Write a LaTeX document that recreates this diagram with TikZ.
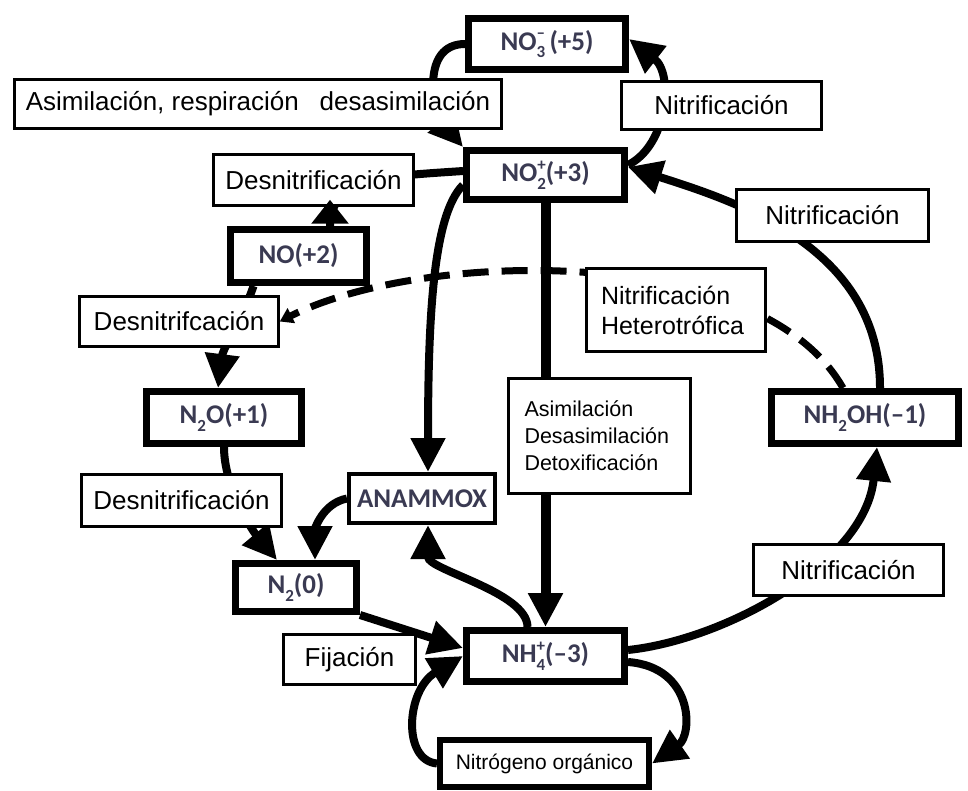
\documentclass[tikz,border=0pt]{standalone}
\usepackage{fontspec}
\setmainfont{Liberation Sans}
\newfontfamily\chemfont{Carlito}
\usetikzlibrary{arrows.meta}
\pgfdeclarelayer{bg}
\pgfsetlayers{bg,main}
\definecolor{chemtext}{HTML}{3A3A52}
\newcommand{\ionsub}[2]{\rlap{\raisebox{-0.28em}{\fontsize{17}{17}\selectfont #1}}\raisebox{0.42em}{\fontsize{17}{17}\selectfont #2}}
\newcommand{\lowsub}[1]{\raisebox{-0.28em}{\fontsize{17}{17}\selectfont #1}}

\begin{document}
\begin{tikzpicture}[x=1pt,y=-1pt,
  chem/.style={draw, line width=7pt, fill=white, inner sep=0pt, text=chemtext,
    font={\chemfont\bfseries\fontsize{27}{30}\selectfont}},
  lbl/.style={draw, line width=2.5pt, fill=white, inner sep=0pt,
    font={\fontsize{26}{30}\selectfont}},
  flow/.style={line width=8pt, -{Triangle[length=34pt,width=33pt]}}]
\useasboundingbox (0,0) rectangle (968,791);
% species
\node[chem, minimum width=157pt, minimum height=51pt] (no3) at (547,44) {NO\ionsub{3}{–}\,(+5)};
\node[chem, minimum width=158pt, minimum height=49pt] (no2) at (545.5,175) {NO\ionsub{2}{+}(+3)};
\node[chem, minimum width=136pt, minimum height=53pt] (no) at (298.5,256) {NO(+2)};
\node[chem, minimum width=155pt, minimum height=52pt] (ntwoo) at (224,417.5) {N\lowsub{2}O(+1)};
\node[chem, minimum width=121pt, minimum height=48pt] (ntwo) at (296,587.5) {N\lowsub{2}(0)};
\node[chem, minimum width=158pt, minimum height=51pt] (nh4) at (545.5,656) {NH\ionsub{4}{+}(–3)};
\node[chem, minimum width=187pt, minimum height=52pt] (nhtwooh) at (865,417.5) {NH\lowsub{2}OH(–1)};
\node[chem, line width=4pt, minimum width=146pt, minimum height=49pt] (anammox) at (422,498.5) {ANAMMOX};
\node[chem, line width=6pt, minimum width=209pt, minimum height=47pt, text=black,
  font={\fontsize{21}{25}\selectfont}] (norg) at (544.5,763.5) {Nitrógeno orgánico};
% labels
\node[lbl, minimum width=487pt, minimum height=49pt] (asim) at (258,104) {Asimilación, respiración\hspace{0.8em}desasimilación};
\node[lbl, minimum width=200pt, minimum height=48pt] (nitA) at (721.5,105.5) {Nitrificación};
\node[lbl, minimum width=200pt, minimum height=51pt] (dnA) at (313.5,180) {Desnitrificación};
\node[lbl, minimum width=192pt, minimum height=52pt] (nitB) at (832.5,215.5) {Nitrificación};
\node[lbl, minimum width=199pt, minimum height=50pt] (dnB) at (179,321.5) {Desnitrifcación};
\node[lbl, minimum width=179pt, minimum height=83pt, align=left, text width=150pt,
  font={\fontsize{25}{30}\selectfont}] (het) at (676,310) {Nitrificación\\Heterotrófica};
\node[lbl, minimum width=200pt, minimum height=52pt] (dnC) at (181.5,500.5) {Desnitrificación};
\node[lbl, minimum width=182pt, minimum height=115pt, align=left, text width=150pt,
  font={\fontsize{21.5}{27}\selectfont}] (asd) at (599.5,436) {Asimilación\\Desasimilación\\Detoxificación};
\node[lbl, minimum width=190pt, minimum height=51pt] (nitC) at (848.5,570) {Nitrificación};
\node[lbl, minimum width=132pt, minimum height=50pt] (fij) at (349.5,659.5) {Fijación};
% pathways, behind the boxes
\begin{pgfonlayer}{bg}
\draw[line width=7pt, dash pattern=on 26pt off 13pt, -{Triangle[length=13pt,width=16pt]}]
  ([xshift=-22pt]nhtwooh.north) .. controls +(-83,-146.5) and +(141.5,-71.5) .. (dnB.east);
\draw[flow] (no3.west) .. controls +(-45,0) and +(-30,-35) .. (no2.north west);
\draw[flow] ([yshift=10pt]no2.east) .. controls +(40,-20) and +(45,35) .. ([yshift=5pt]no3.east);
\draw[flow] ([xshift=15pt]nhtwooh.north) .. controls +(0,-140) and +(110,35) .. ([yshift=8pt]no2.east);
\draw[line width=8pt] ([yshift=4pt]no2.west) .. controls +(-70,5) and +(0,-50) .. ([xshift=31.5pt]no.north);
\draw[flow] ([xshift=-45pt]no.south) .. controls +(-10,30) and +(5,-40) .. ([xshift=-6pt]ntwoo.north);
\draw[flow] (ntwoo.south) .. controls +(0,40) and +(-25,-30) .. ([xshift=-19pt]ntwo.north);
\draw[flow] ([yshift=-10pt]no2.west) .. controls +(-30,30) and +(0,-155) .. ([xshift=6pt]anammox.north);
\draw[flow, line width=10pt] (no2.south) -- (nh4.north);
\draw[flow] (anammox.west) .. controls +(-25,5) and +(0,-30) .. ([xshift=19pt]ntwo.north);
\draw[flow] ([xshift=-18pt]nh4.north) .. controls +(0,-35) and +(0,45) .. ([xshift=6pt]anammox.south);
\draw[flow] (ntwo.south east) -- ([yshift=8pt]nh4.west);
\draw[flow] (norg.west) .. controls +(-35,-3) and +(-57,34) .. (nh4.west);
\draw[flow] ([yshift=-6pt]nh4.east) .. controls +(66,5) and +(41,-28.5) .. (norg.east);
\draw[flow] ([yshift=6pt]nh4.east) .. controls +(96,-10) and +(-12,117) .. ([xshift=12pt]nhtwooh.south);
\end{pgfonlayer}
\draw[line width=8pt, -{Triangle[length=24pt,width=36pt]}] ([xshift=31.5pt]no.north) -- ([xshift=16.5pt,yshift=7pt]dnA.south);
\end{tikzpicture}
\end{document}
